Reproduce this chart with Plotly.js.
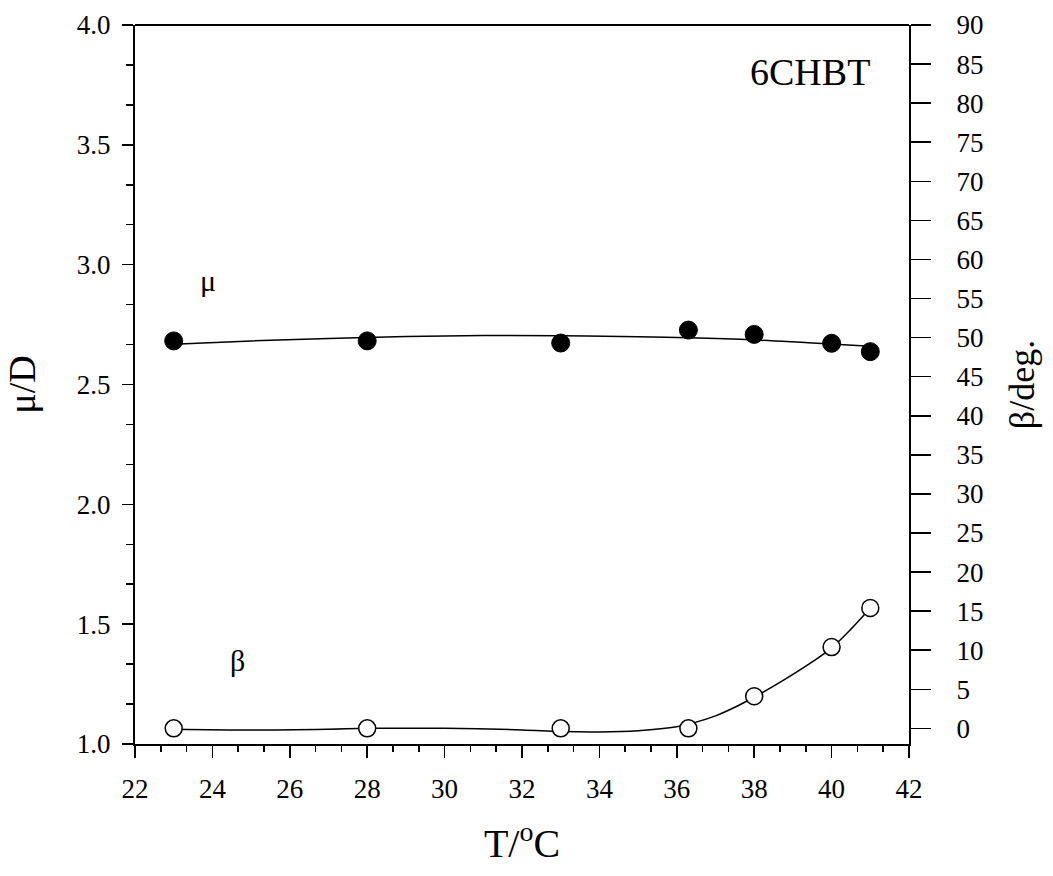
<!DOCTYPE html>
<html>
<head>
<meta charset="utf-8">
<script src="https://cdn.plot.ly/plotly-3.0.1.min.js"></script>
<style>html,body{margin:0;padding:0;background:#fff;}#chart{width:1053px;height:876px;}</style>
</head>
<body>
<div id="chart"></div>
<script>
// Measured data
const temperature = [23, 28, 33, 36.3, 38, 40, 41];
const muValues = [2.682, 2.682, 2.673, 2.727, 2.709, 2.672, 2.637];
const betaValues = [0, 0, 0, 0, 4.1, 10.4, 15.4];

// Fitted curves
const muFitT = [23, 25, 27, 29, 31, 33, 35, 36.3, 38, 39.4, 41];
const muFitY = [2.668, 2.682, 2.692, 2.700, 2.704, 2.703, 2.699, 2.695, 2.686, 2.674, 2.660];
const betaFitT = [23, 25, 27, 28, 30, 32, 33, 34, 35, 36, 36.5, 37, 37.5, 38, 38.5, 39, 39.5, 40, 40.5, 41];
const betaFitY = [-0.1, -0.2, -0.1, 0, 0, -0.2, -0.4, -0.45, -0.3, 0.2, 0.8, 1.6, 2.7, 4.0, 5.4, 6.9, 8.5, 10.3, 12.7, 15.4];

const FONT = 'Liberation Serif';

const traces = [
  {x: muFitT, y: muFitY, mode: 'lines', line: {color: '#000', width: 1.5, shape: 'spline'}, yaxis: 'y', hoverinfo: 'skip'},
  {x: betaFitT, y: betaFitY, mode: 'lines', line: {color: '#000', width: 1.5, shape: 'spline'}, yaxis: 'y2', hoverinfo: 'skip'},
  {x: temperature, y: muValues, mode: 'markers', marker: {color: '#000', size: 18, line: {color: '#000', width: 1}}, yaxis: 'y', name: 'μ'},
  {x: temperature, y: betaValues, mode: 'markers', marker: {color: '#fff', size: 17, line: {color: '#000', width: 1.5}}, yaxis: 'y2', name: 'β'}
];

const layout = {
  width: 1053, height: 876,
  margin: {l: 135, r: 144, t: 25, b: 132},
  paper_bgcolor: '#fff', plot_bgcolor: '#fff',
  showlegend: false,
  font: {family: FONT, color: '#000', size: 26},
  xaxis: {
    range: [22, 42], tick0: 22, dtick: 2, showgrid: false, zeroline: false,
    showline: true, linecolor: '#000', linewidth: 2, mirror: false,
    ticks: 'outside', ticklen: 12, tickwidth: 1.5, tickcolor: '#000',
    ticklabelstandoff: 8,
    minor: {tick0: 22, dtick: 2/3, ticks: 'outside', ticklen: 6, tickwidth: 1.5, tickcolor: '#000'},
    tickfont: {family: FONT, size: 27, color: '#000'},
    title: {text: 'T/<sup>o</sup>C', font: {family: FONT, size: 40, color: '#000'}, standoff: 26},
    automargin: false
  },
  yaxis: {
    range: [1, 4], tick0: 1, dtick: 0.5, tickformat: '.1f', showgrid: false, zeroline: false,
    showline: true, linecolor: '#000', linewidth: 2,
    ticks: 'outside', ticklen: 11, tickwidth: 1.5, tickcolor: '#000',
    ticklabelstandoff: 6,
    minor: {tick0: 1, dtick: 0.5/3, ticks: 'outside', ticklen: 7, tickwidth: 1.5, tickcolor: '#000'},
    tickfont: {family: FONT, size: 27, color: '#000'},
    title: {text: 'μ/D', font: {family: FONT, size: 38, color: '#000'}, standoff: 30},
    automargin: false
  },
  yaxis2: {
    overlaying: 'y', side: 'right', anchor: 'x',
    range: [-2, 90], tick0: 0, dtick: 5, showgrid: false, zeroline: false,
    showline: true, linecolor: '#000', linewidth: 2,
    ticks: 'outside', ticklen: 20, tickwidth: 1.5, tickcolor: '#000',
    ticklabelstandoff: 20,
    tickfont: {family: FONT, size: 27, color: '#000'},
    title: {text: 'β/deg.', font: {family: FONT, size: 36, color: '#000'}, standoff: 26},
    automargin: false
  },
  shapes: [
    {type: 'line', xref: 'paper', yref: 'paper', x0: 0, x1: 1, y0: 1, y1: 1, line: {color: '#000', width: 2}}
  ],
  annotations: [
    {x: 39.44, y: 3.804, xref: 'x', yref: 'y', text: '6CHBT', showarrow: false, font: {family: FONT, size: 38, color: '#000'}},
    {x: 23.89, y: 2.932, xref: 'x', yref: 'y', text: 'μ', showarrow: false, font: {family: FONT, size: 30, color: '#000'}},
    {x: 24.66, y: 1.35, xref: 'x', yref: 'y', text: 'β', showarrow: false, font: {family: FONT, size: 30, color: '#000'}}
  ]
};

Plotly.newPlot('chart', traces, layout, {displayModeBar: false, staticPlot: true});
</script>
</body>
</html>
